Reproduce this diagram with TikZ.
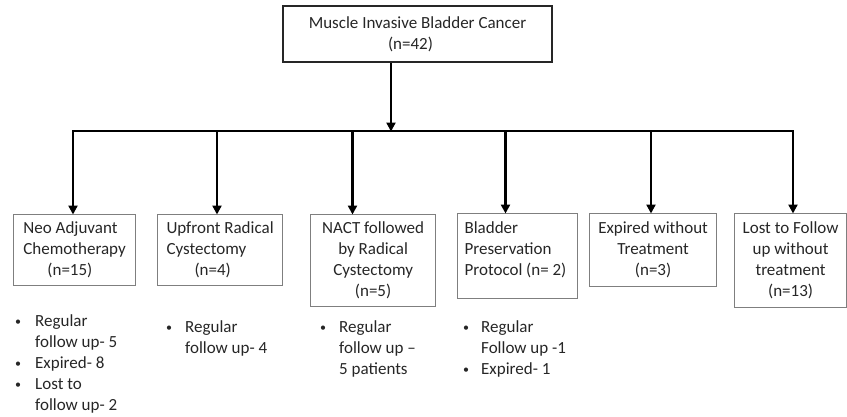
\documentclass[tikz,border=0pt]{standalone}
\usepackage{fontspec}
\setmainfont{Carlito}
\usetikzlibrary{arrows.meta}
\definecolor{txtc}{HTML}{262626}
\definecolor{boxc}{HTML}{7F7F7F}
\newcommand{\bul}[1]{\makebox[#1][l]{\raisebox{1pt}{\fontsize{12}{12}\selectfont •}}}
\begin{document}
\begin{tikzpicture}[x=1pt,y=-1pt,
  every node/.style={font=\fontsize{17}{21}\selectfont, text=txtc, inner sep=0pt},
  topbox/.style={draw=black!85, line width=2.4pt, minimum width=269pt, minimum height=56pt},
  subbox/.style={draw=boxc, line width=1.2pt, anchor=north west},
  conn/.style={line width=2.6pt, black},
  arr/.style={conn, -{Triangle[width=9pt,length=9pt]}, shorten >=-0.5pt},
  lst/.style={align=left, anchor=west}
]
\useasboundingbox (0,0) rectangle (847,416);
% top box
\node[topbox, align=center] (top) at (417.5,34) {Muscle Invasive Bladder Cancer\\\hspace*{-14pt}(n=42)};
% junction line
\coordinate (j) at (391,131);
\coordinate (h1) at (73,131);
\coordinate (h2) at (217,131);
\coordinate (h3) at (352.5,131);
\coordinate (h4) at (505.5,131);
\coordinate (h5) at (651,131);
\coordinate (h6) at (793,131);
\draw[conn, line cap=rect] (h1) -- (h6);
\draw[arr] (top.south -| j) -- (j);
% boxes
\node[subbox, minimum width=122pt, minimum height=71pt, align=left] (b1) at (13,214) {Neo Adjuvant\\Chemotherapy\\\hspace*{24pt}(n=15)};
\node[subbox, minimum width=125pt, minimum height=71pt, align=left] (b2) at (157,214) {Upfront Radical\\Cystectomy\\\hspace*{28pt}(n=4)};
\node[subbox, minimum width=125pt, minimum height=92pt, align=center] (b3) at (310,214) {NACT followed\\by Radical\\Cystectomy\\(n=5)};
\node[subbox, minimum width=120pt, minimum height=85pt] (b4) at (457,213) {};
\node[align=left] (t4) at (515.5,250) {Bladder\\Preservation\\Protocol (n= 2)};
\node[subbox, minimum width=127pt, minimum height=73pt, align=center] (b5) at (589,213) {Expired without\\Treatment\\(n=3)};
\node[subbox, minimum width=112pt, minimum height=94pt, align=center] (b6) at (734,213) {Lost to Follow\\up without\\treatment\\(n=13)};
% branch arrows
\draw[arr] (h1) -- (b1.north -| h1);
\draw[arr] (h2) -- (b2.north -| h2);
\draw[arr] (h3) -- (b3.north -| h3);
\draw[arr] (h4) -- (b4.north -| h4);
\draw[arr] (h5) -- (b5.north -| h5);
\draw[arr] (h6) -- (b6.north -| h6);
% lists
\node[lst] (l1) at (15,363.5) {\bul{20pt}Regular\\\hspace*{20pt}follow up- 5\\\bul{20pt}Expired- 8\\\bul{20pt}Lost to\\\hspace*{20pt}follow up- 2};
\node[lst] (l2) at (166,338) {\bul{19pt}Regular\\\hspace*{19pt}follow up- 4};
\node[lst] (l3) at (320,349) {\bul{19pt}Regular\\\hspace*{19pt}follow up –\\\hspace*{19pt}5 patients};
\node[lst] (l4) at (463,349) {\bul{18pt}Regular\\\hspace*{18pt}Follow up -1\\\bul{18pt}Expired- 1};
\end{tikzpicture}
\end{document}
